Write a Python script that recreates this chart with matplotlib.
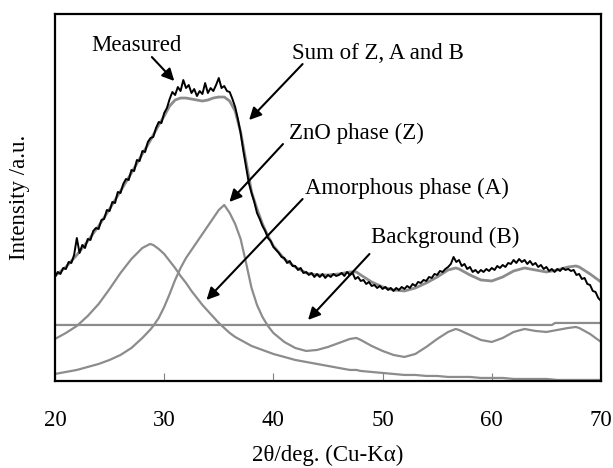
import numpy as np
import matplotlib; matplotlib.use("Agg")
import matplotlib.pyplot as plt

plt.rcParams["font.family"] = ["Liberation Serif", "DejaVu Serif"]

# 2theta grid for the fitted components
two_theta = [20, 21, 22, 23, 24, 25, 26, 27, 28, 28.7, 29, 29.5, 30, 30.5, 31, 31.5,
             32, 32.5, 33, 33.5, 34, 34.5, 35, 35.5, 36, 36.5, 37, 37.5, 38, 38.5, 39,
             39.5, 40, 41, 42, 43, 44, 45, 46, 47, 47.6, 48, 49, 50, 51, 52, 53, 54, 55,
             56, 56.7, 57, 58, 59, 60, 61, 62, 63, 64, 65, 66, 67, 67.7, 68, 69, 70]

sum_zab = [105, 114, 126, 140, 155, 172, 190, 208, 227, 240, 246, 256, 265, 275, 281, 283,
           283, 282, 281, 280, 281, 283, 284, 284, 280, 270, 249, 219, 189, 172, 157,
           145, 135, 122, 114, 108, 106, 106, 107, 109, 109, 106, 99, 94, 91, 90, 93, 98, 104,
           111, 113, 112, 106, 101, 100, 104, 110, 113, 111, 109, 111, 114, 115, 114, 107, 99]

amorphous = [42, 48, 55, 65, 77, 92, 108, 122, 133, 137, 136, 132, 127, 120, 113, 105,
             98, 90, 83, 76, 70, 64, 58, 53, 48, 44, 41, 38, 35, 33, 31,
             29, 27, 24, 21, 19, 17, 15, 13, 11, 11, 10, 9, 8, 7, 6, 6, 5, 5,
             4, 4, 4, 4, 3, 3, 3, 2, 2, 2, 2, 1, 1, 1, 1, 1, 1]

zno = [7, 9, 11, 14, 17, 21, 26, 33, 43, 51, 55, 63, 74, 87, 101, 113,
       123, 131, 139, 147, 155, 163, 171, 176, 168, 157, 142, 118, 93, 76, 64,
       55, 48, 39, 33, 30, 31, 34, 38, 42, 43, 41, 35, 30, 26, 24, 27, 34, 42,
       49, 52, 51, 46, 41, 39, 43, 49, 52, 50, 49, 51, 53, 54, 53, 47, 39]

bg_x = [20, 65.5, 65.8, 70]
bg_y = [56, 56, 58, 58]

# measured scan, 0.25 deg steps from 20 to 70
meas_start, meas_step = 20.0, 0.25
measured = [104, 109, 107, 113, 112, 119, 118, 126, 143, 128, 136, 133, 142, 141, 150, 153, 152, 161, 162, 171,
            170, 179, 178, 189, 188, 197, 202, 201, 211, 210, 221, 220, 230, 229, 239, 243, 244, 253, 259, 258,
            268, 273, 282, 289, 286, 294, 290, 301, 293, 296, 288, 292, 285, 290, 287, 298, 288, 293, 290, 296,
            303, 293, 295, 290, 289, 282, 274, 262, 248, 230, 214, 198, 188, 179, 168, 162, 155, 150, 143, 140,
            134, 131, 128, 124, 123, 118, 120, 115, 115, 111, 113, 108, 109, 106, 108, 104, 107, 104, 107, 103,
            106, 104, 107, 105, 106, 108, 105, 109, 106, 108, 102, 104, 100, 101, 97, 99, 95, 96, 93, 95,
            92, 94, 91, 93, 90, 93, 91, 94, 92, 95, 93, 97, 95, 99, 98, 101, 100, 104, 103, 107,
            106, 110, 109, 112, 114, 117, 124, 119, 121, 115, 117, 112, 114, 109, 111, 108, 111, 109, 112, 110,
            113, 111, 115, 113, 116, 114, 118, 117, 121, 118, 122, 119, 121, 117, 120, 116, 118, 114, 116, 112,
            114, 110, 112, 109, 112, 110, 113, 111, 112, 110, 111, 106, 107, 102, 103, 97, 96, 90, 89, 83,
            80]
meas_x = meas_start + meas_step * np.arange(len(measured))

GRAY = "#8c8c8c"
FS = 16.5

fig = plt.figure(figsize=(6.13, 4.68), dpi=100)
ax = fig.add_axes([0.0897, 0.186, 0.8907, 0.784])

ax.plot(bg_x, bg_y, color=GRAY, lw=1.6)
ax.plot(two_theta, amorphous, color=GRAY, lw=1.6)
ax.plot(two_theta, zno, color=GRAY, lw=1.6)
ax.plot(two_theta, sum_zab, color=GRAY, lw=2.0)
ax.plot(meas_x, measured, color="black", lw=1.4)

ax.set_xlim(20, 70)
ax.set_ylim(0, 367)
ax.set_xticks([20, 30, 40, 50, 60, 70])
ax.set_yticks([])
ax.tick_params(axis="x", direction="in", length=6, width=0.8, color="gray",
               pad=21, labelsize=FS)
for s in ax.spines.values():
    s.set_linewidth(1.6)
    s.set_color("black")

ax.set_xlabel("2θ/deg. (Cu-Kα)", fontsize=FS, labelpad=10)
fig.text(20 / 613, 1 - 197 / 468, "Intensity /a.u.", rotation=90,
         ha="center", va="center", fontsize=FS)

arrow = dict(arrowstyle="-|>", color="black", lw=1.5, mutation_scale=18)
labels = [
    ("Measured", (23.36, 336), (28.7, 326), (31.1, 298)),
    ("Sum of Z, A and B", (41.7, 328), (42.85, 319), (37.6, 259)),
    ("ZnO phase (Z)", (41.4, 248), (41.05, 239), (35.8, 177)),
    ("Amorphous phase (A)", (42.85, 193), (42.85, 184), (33.7, 79)),
    ("Background (B)", (48.97, 144), (48.97, 129), (43.0, 59)),
]
for txt, tpos, tail, head in labels:
    ax.text(tpos[0], tpos[1], txt, fontsize=FS, ha="left", va="center")
    ax.annotate("", xy=head, xytext=tail, arrowprops=arrow)

fig.savefig("out.png", dpi=100)
